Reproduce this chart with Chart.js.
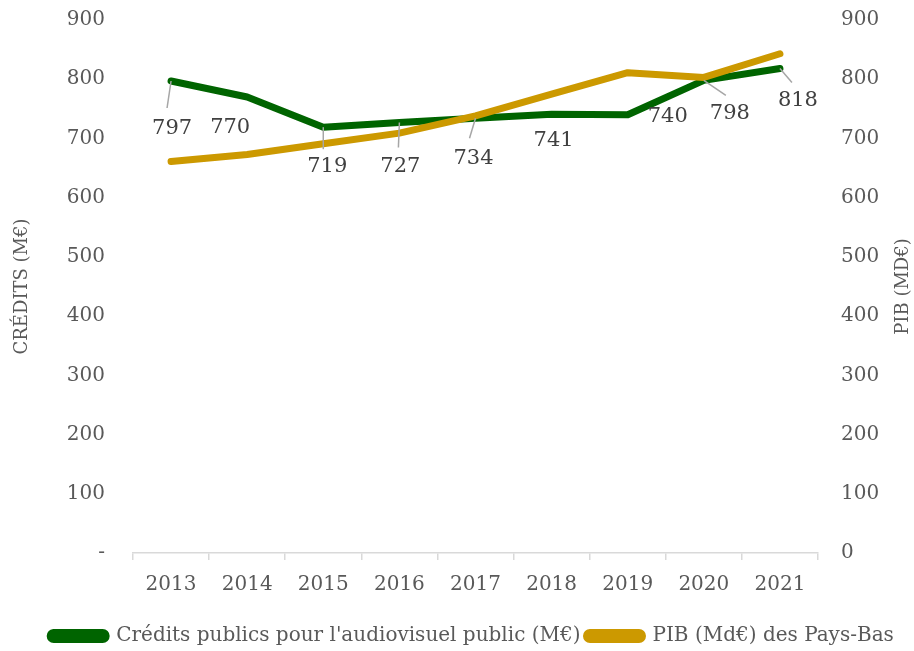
<!DOCTYPE html>
<html>
<head>
<meta charset="utf-8">
<script src="https://cdn.jsdelivr.net/npm/chart.js@4/dist/chart.umd.min.js"></script>
<style>
html,body{margin:0;padding:0;background:#fff;}
#wrap{width:914px;height:651px;position:relative;}
</style>
</head>
<body>
<div id="wrap"><canvas id="c" width="914" height="651"></canvas></div>
<script>
const categories = ['2013','2014','2015','2016','2017','2018','2019','2020','2021'];
const credits = [797, 770, 719, 727, 734, 741, 740, 798, 818];
const pib = [661, 673, 691, 709, 738, 775, 811, 803, 843];
const leftTicks = [0,100,200,300,400,500,600,700,800,900];
const seriesNames = ["Crédits publics pour l'audiovisuel public (M€)", "PIB (Md€) des Pays-Bas"];
const axisTitles = ['CRÉDITS (M€)', 'PIB (MD€)'];

const FONT = "'DejaVu Serif', serif";
const GREEN = '#006400';
const GOLD = '#CC9900';
const TXT = '#595959';

// label placement relative to the point (pixels), leader line end (null = none)
const labelPlacement = [
  {dx: 1, dy: 48, lead: [-4, 27]},
  {dx: -17, dy: 31, lead: null},
  {dx: 4, dy: 39, lead: [0, 22]},
  {dx: 1, dy: 44, lead: [-1, 25]},
  {dx: -2, dy: 40, lead: [-6, 20]},
  {dx: 2, dy: 26, lead: null},
  {dx: 40, dy: 2, lead: null},
  {dx: 26, dy: 33, lead: [22, 15]},
  {dx: 18, dy: 32, lead: [12, 14]}
];

const dataLabels = {
  id: 'dataLabels',
  afterDatasetsDraw(chart) {
    const ctx = chart.ctx;
    const meta = chart.getDatasetMeta(0);
    ctx.save();
    meta.data.forEach((pt, i) => {
      const p = labelPlacement[i];
      if (p.lead) {
        ctx.strokeStyle = '#a6a6a6';
        ctx.lineWidth = 1.5;
        ctx.beginPath();
        ctx.moveTo(pt.x, pt.y);
        ctx.lineTo(pt.x + p.lead[0], pt.y + p.lead[1]);
        ctx.stroke();
      }
    });
    ctx.fillStyle = '#404040';
    ctx.font = "21px " + FONT;
    ctx.textAlign = 'center';
    ctx.textBaseline = 'middle';
    meta.data.forEach((pt, i) => {
      const p = labelPlacement[i];
      ctx.fillText(String(credits[i]), pt.x + p.dx, pt.y + p.dy);
    });
    ctx.restore();
  }
};

const axisTitlePlugin = {
  id: 'axisTitlePlugin',
  afterLayout(chart) {
    if (chart.legend) {
      chart.legend.left += 15; chart.legend.right += 15;
      chart.legend.top += 5; chart.legend.bottom += 5;
    }
  },
  afterDraw(chart) {
    const ctx = chart.ctx;
    const a = chart.chartArea;
    const cy = (a.top + a.bottom) / 2;
    ctx.save();
    ctx.fillStyle = TXT;
    ctx.font = "18px " + FONT;
    ctx.textAlign = 'center';
    ctx.textBaseline = 'middle';
    [[22, axisTitles[0]], [903, axisTitles[1]]].forEach(([x, t]) => {
      ctx.save();
      ctx.translate(x, cy);
      ctx.rotate(-Math.PI / 2);
      ctx.fillText(t, 0, 0);
      ctx.restore();
    });
    ctx.restore();
  }
};

new Chart(document.getElementById('c'), {
  type: 'line',
  data: {
    labels: categories,
    datasets: [
      {label: seriesNames[0], data: credits, yAxisID: 'y', borderColor: GREEN, backgroundColor: GREEN,
       borderWidth: 7, pointRadius: 0, tension: 0, borderCapStyle: 'round', borderJoinStyle: 'round', order: 2},
      {label: seriesNames[1], data: pib, yAxisID: 'y1', borderColor: GOLD, backgroundColor: GOLD,
       borderWidth: 7, pointRadius: 0, tension: 0, borderCapStyle: 'round', borderJoinStyle: 'round', order: 1}
    ]
  },
  options: {
    responsive: false,
    animation: false,
    devicePixelRatio: 1,
    layout: {padding: {top: 20, left: 0, right: 0, bottom: 0}},
    plugins: {
      tooltip: {enabled: false},
      legend: {
        position: 'bottom',
        labels: {
          color: TXT,
          font: {family: FONT, size: 20},
          boxWidth: 56,
          boxHeight: 7,
          useBorderRadius: true,
          borderRadius: 3.5,
          padding: 6,
          sort: (a, b) => a.datasetIndex - b.datasetIndex
        }
      }
    },
    scales: {
      x: {
        offset: true,
        grid: {display: true, offset: true, drawOnChartArea: false, drawTicks: true, tickLength: 7, color: '#d9d9d9', lineWidth: 1.5},
        border: {display: true, color: '#d9d9d9', width: 1.5},
        ticks: {color: TXT, font: {family: FONT, size: 20}, padding: 13, maxRotation: 0},
        afterFit(s) { s.height = 62; }
      },
      y: {
        position: 'left',
        min: 0, max: 900,
        afterBuildTicks(s) { s.ticks = leftTicks.map(v => ({value: v})); },
        grid: {display: false},
        border: {display: false},
        ticks: {color: TXT, font: {family: FONT, size: 20}, padding: 20,
                callback: v => v === 0 ? '-' : String(v)},
        afterFit(s) { s.width = 133; s.paddingTop = 0; s.paddingBottom = 0; }
      },
      y1: {
        position: 'right',
        min: 0, max: 900,
        afterBuildTicks(s) { s.ticks = leftTicks.map(v => ({value: v})); },
        grid: {display: false},
        border: {display: false},
        ticks: {color: TXT, font: {family: FONT, size: 20}, padding: 15},
        afterFit(s) { s.width = 96; s.paddingTop = 0; s.paddingBottom = 0; }
      }
    }
  },
  plugins: [dataLabels, axisTitlePlugin]
});
</script>
</body>
</html>
